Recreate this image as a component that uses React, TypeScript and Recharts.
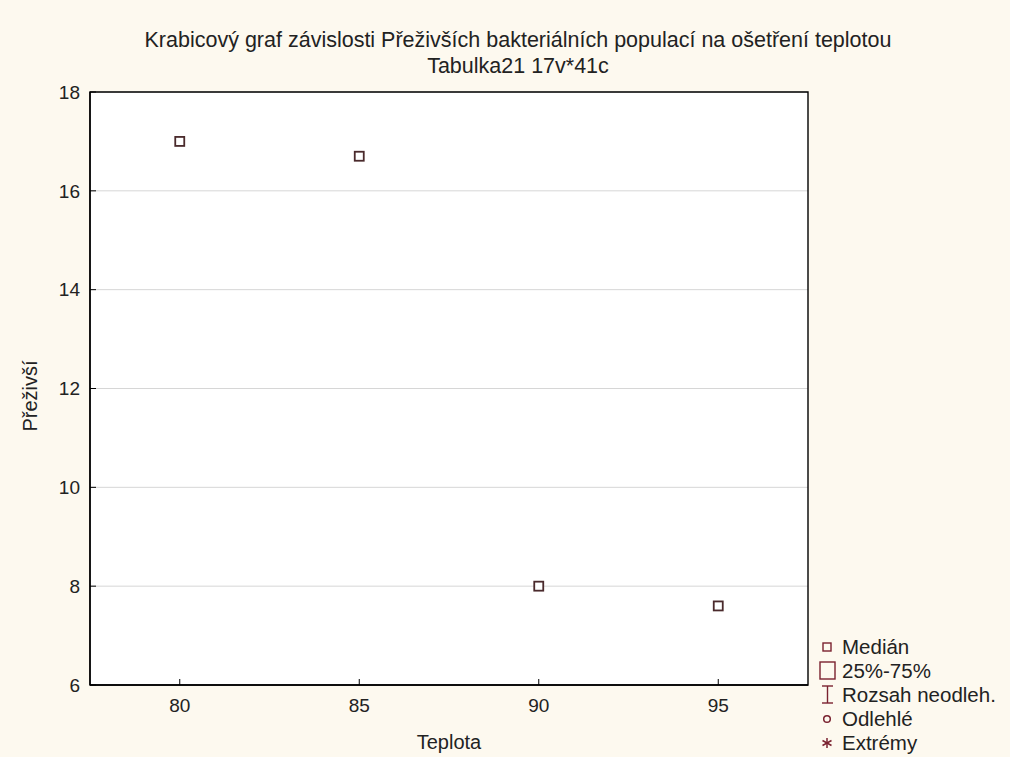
import { ScatterChart, Scatter, XAxis, YAxis, CartesianGrid, ReferenceArea } from "recharts";

const temperatures = [80, 85, 90, 95];
const medians = [17, 16.7, 8, 7.6];
const xTicks = [80, 85, 90, 95];
const yTicks = [6, 8, 10, 12, 14, 16, 18];
const legendLabels = ["Medián", "25%-75%", "Rozsah neodleh.", "Odlehlé", "Extrémy"];

const FONT = '"Liberation Sans", Arial, sans-serif';
const INK = "#222";
const LEGEND_RED = "#7a2230";

const data = temperatures.map((t, i) => ({ x: t, y: medians[i] }));

function MedianBox(props: any) {
  const { cx, cy } = props;
  return (
    <rect x={cx - 4.5} y={cy - 4.5} width={9} height={9} fill="#fff" stroke="#4a2a2c" strokeWidth={1.8} />
  );
}

function LegendIcon({ index }: { index: number }) {
  const c = LEGEND_RED;
  return (
    <svg width={22} height={24} style={{ display: "block" }}>
      {index === 0 && <rect x={8} y={8} width={8} height={8} fill="none" stroke={c} strokeWidth={1.4} />}
      {index === 1 && <rect x={5} y={3} width={15} height={17} fill="none" stroke={c} strokeWidth={1.4} />}
      {index === 2 && (
        <g stroke={c} strokeWidth={1.4}>
          <line x1={7} y1={3} x2={18} y2={3} />
          <line x1={12.5} y1={3} x2={12.5} y2={20} />
          <line x1={7} y1={20} x2={18} y2={20} />
        </g>
      )}
      {index === 3 && <circle cx={12} cy={12} r={3.3} fill="none" stroke={c} strokeWidth={1.5} />}
      {index === 4 && (
        <g stroke={c} strokeWidth={1.5}>
          <line x1={12} y1={7} x2={12} y2={17} />
          <line x1={7.5} y1={9.5} x2={16.5} y2={14.5} />
          <line x1={7.5} y1={14.5} x2={16.5} y2={9.5} />
        </g>
      )}
    </svg>
  );
}

export default function App() {
  const tickStyle = { fill: INK, fontSize: 19, fontFamily: FONT };

  return (
    <div
      style={{
        position: "absolute",
        top: 0,
        left: 0,
        width: 1010,
        height: 757,
        background: "#fdf9ef",
        fontFamily: FONT,
        color: INK,
        overflow: "hidden",
      }}
    >
      {/* Title */}
      <div
        style={{
          position: "absolute",
          top: 27,
          left: 18,
          width: 1000,
          textAlign: "center",
          fontSize: 21.5,
          lineHeight: "26px",
        }}
      >
        Krabicový graf závislosti Přeživších bakteriálních populací na ošetření teplotou
        <br />
        Tabulka21 17v*41c
      </div>

      <ScatterChart width={1010} height={757} margin={{ top: 92, right: 202, bottom: 0, left: 0 }}>
        <CartesianGrid vertical={false} stroke="#d6d6d6" fill="#fff" />
        <XAxis
          type="number"
          dataKey="x"
          domain={[77.5, 97.5]}
          ticks={xTicks}
          interval={0}
          height={72}
          tickSize={-6}
          tickMargin={20}
          axisLine={{ stroke: "#000", strokeWidth: 1.4 }}
          tickLine={{ stroke: "#000" }}
          tick={tickStyle}
          label={{ value: "Teplota", position: "insideBottom", offset: 8, fill: INK, fontSize: 20, fontFamily: FONT }}
        />
        <YAxis
          type="number"
          dataKey="y"
          domain={[6, 18]}
          ticks={yTicks}
          interval={0}
          width={90}
          tickSize={-6}
          tickMargin={16}
          axisLine={{ stroke: "#000", strokeWidth: 1.4 }}
          tickLine={{ stroke: "#000" }}
          tick={tickStyle}
          label={() => (
            <text
              x={37}
              y={396}
              transform="rotate(-90 37 396)"
              textAnchor="middle"
              fill={INK}
              fontSize={20}
              fontFamily={FONT}
            >
              Přeživší
            </text>
          )}
        />
        {/* frame round the plot area */}
        <ReferenceArea
          x1={77.5}
          x2={97.5}
          y1={6}
          y2={18}
          fill="none"
          fillOpacity={0}
          stroke="#000"
          strokeWidth={1.4}
          strokeOpacity={1}
        />
        <Scatter data={data} shape={MedianBox} isAnimationActive={false} />
      </ScatterChart>

      {/* Legend */}
      <div style={{ position: "absolute", left: 815, top: 635, fontSize: 20.5 }}>
        {legendLabels.map((label, i) => (
          <div key={label} style={{ display: "flex", alignItems: "center", height: 24 }}>
            <LegendIcon index={i} />
            <span style={{ marginLeft: 5, lineHeight: "24px", whiteSpace: "nowrap" }}>{label}</span>
          </div>
        ))}
      </div>
    </div>
  );
}
